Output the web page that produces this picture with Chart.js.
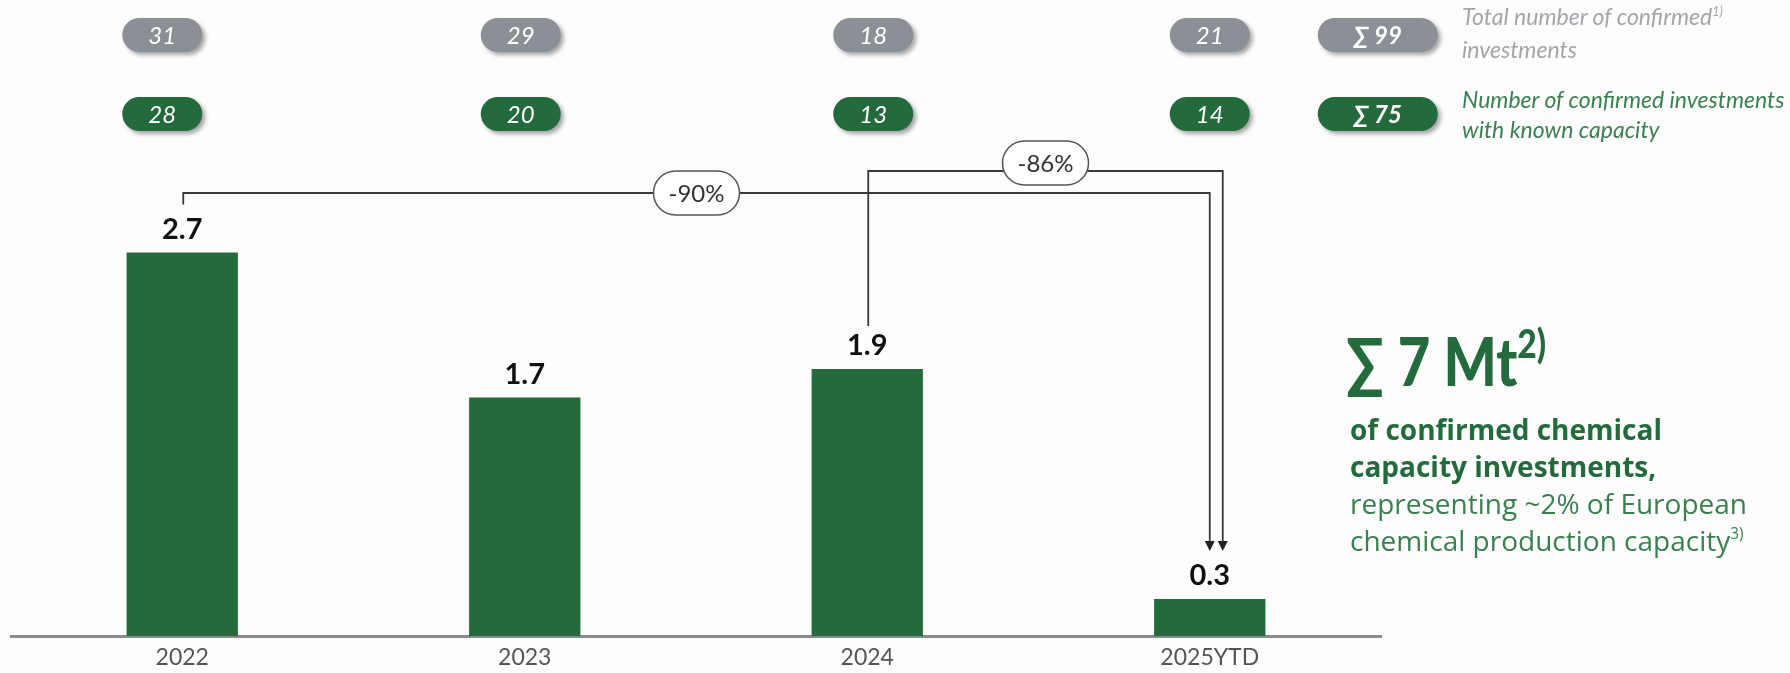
<!DOCTYPE html>
<html>
<head>
<meta charset="utf-8">
<script src="https://cdn.jsdelivr.net/npm/chart.js@4.4.1/dist/chart.umd.min.js"></script>
<style>
    html, body { margin: 0; padding: 0; background: #fdfdfd; }
    #wrap { position: relative; width: 1790px; height: 673px; overflow: hidden; }
    .legend { position: absolute; left: 1462px; font-family: Lato, sans-serif; font-style: italic; font-size: 23px; white-space: nowrap; }
    .legend sup, .big sup, .note sup { font-size: 0.55em; line-height: 0; vertical-align: 0.75em; }
    #legendTotal { top: 0px; color: #a2a6aa; line-height: 33px; }
    #legendKnown { top: 84px; color: #3b8052; line-height: 30px; }
    .big { position: absolute; left: 1346px; top: 321px; font-family: Lato, sans-serif; font-weight: 900; font-size: 66px; line-height: 80px; color: #236b3c; white-space: nowrap; transform: scaleX(0.85); transform-origin: left center; }
    .big sup { font-size: 0.6em; vertical-align: 0.7em; }
    .note { position: absolute; left: 1350px; top: 411px; font-family: 'Open Sans', sans-serif; font-size: 28px; line-height: 37px; color: #3a7f50; white-space: nowrap; }
    .note b { color: #236b3c; }
</style>
</head>
<body>
<div id="wrap">
    <canvas id="chart" width="1790" height="673"></canvas>
    <div class="legend" id="legendTotal">Total number of confirmed<sup>1)</sup><br>investments</div>
    <div class="legend" id="legendKnown">Number of confirmed investments<br>with known capacity</div>
    <div class="big">&sum; 7 Mt<sup>2)</sup></div>
    <div class="note"><b>of confirmed chemical<br>capacity investments,</b><br>representing ~2% of European<br>chemical production capacity<sup>3)</sup></div>
</div>
<script>
// --- Data (bar heights; labels shown rounded) ---
const years = ['2022', '2023', '2024', '2025YTD'];
const capacityMt = [2.7, 1.68, 1.88, 0.26];
const totalInvestments = [31, 29, 18, 21];
const knownCapacityInvestments = [28, 20, 13, 14];
const totalInvestmentsSum = 99;
const knownCapacitySum = 75;
const changeFrom = [0, 2];          // bar index where each bracket starts
const changeTo = [3, 3];            // bar index where each bracket ends
const changeLabels = ['-90%', '-86%'];

const GREEN = '#236b3c';
const GREY_PILL = '#8b9097';

function roundRect(ctx, x, y, w, h, r) {
    ctx.beginPath();
    ctx.moveTo(x + r, y);
    ctx.lineTo(x + w - r, y);
    ctx.arc(x + w - r, y + r, r, -Math.PI / 2, Math.PI / 2);
    ctx.lineTo(x + r, y + h);
    ctx.arc(x + r, y + r, r, Math.PI / 2, Math.PI * 1.5);
    ctx.closePath();
}

function drawPill(ctx, cx, cy, w, text, color, bold) {
    const h = 34;
    ctx.save();
    ctx.shadowColor = 'rgba(0,0,0,0.35)';
    ctx.shadowBlur = 4;
    ctx.shadowOffsetX = 3;
    ctx.shadowOffsetY = 3;
    ctx.fillStyle = color;
    roundRect(ctx, cx - w / 2, cy - h / 2, w, h, h / 2);
    ctx.fill();
    ctx.restore();
    ctx.save();
    ctx.fillStyle = '#ffffff';
    ctx.font = (bold ? 'italic 700 ' : 'italic 400 ') + '24px Lato, sans-serif';
    ctx.textAlign = 'center';
    ctx.textBaseline = 'middle';
    ctx.fillText(text, cx, cy + 1);
    ctx.restore();
}

function drawArrowHead(ctx, x, y) {
    ctx.beginPath();
    ctx.moveTo(x - 5, y - 10);
    ctx.lineTo(x + 5, y - 10);
    ctx.lineTo(x, y);
    ctx.closePath();
    ctx.fill();
}

// Draws value labels, count pills and the change brackets
const annotationsPlugin = {
    id: 'annotations',
    afterDatasetsDraw(chart) {
        const ctx = chart.ctx;
        const bars = chart.getDatasetMeta(0).data;
        const top = chart.chartArea.top;

        // value labels above bars
        ctx.save();
        ctx.fillStyle = '#111';
        ctx.font = '700 29px Lato, sans-serif';
        ctx.textAlign = 'center';
        ctx.textBaseline = 'middle';
        bars.forEach((bar, i) => {
            ctx.fillText(capacityMt[i].toFixed(1), bar.x, bar.y - 23);
        });
        ctx.restore();

        // count pills
        const pillShift = [-20, -4, 6, 0];
        bars.forEach((bar, i) => {
            drawPill(ctx, bar.x + pillShift[i], 35, 80, String(totalInvestments[i]), GREY_PILL, false);
            drawPill(ctx, bar.x + pillShift[i], 114, 80, String(knownCapacityInvestments[i]), GREEN, false);
        });
        const sumX = bars[3].x + 168;
        drawPill(ctx, sumX, 35, 120, '\u2211 ' + totalInvestmentsSum, GREY_PILL, true);
        drawPill(ctx, sumX, 114, 120, '\u2211 ' + knownCapacitySum, GREEN, true);

        // change brackets
        const levels = [top + 54, top + 32];
        const endShift = [0, 13];
        const startGap = [48, 43];
        const boxShift = [0, -8];
        ctx.save();
        ctx.strokeStyle = '#3a3a3a';
        ctx.fillStyle = '#222';
        ctx.lineWidth = 1.8;
        changeLabels.forEach((label, k) => {
            const a = bars[changeFrom[k]];
            const b = bars[changeTo[k]];
            const y = levels[k];
            const x0 = a.x + 1;
            const x1 = b.x + endShift[k];
            const yEnd = b.y - 48;
            ctx.beginPath();
            ctx.moveTo(x0, a.y - startGap[k]);
            ctx.lineTo(x0, y);
            ctx.lineTo(x1, y);
            ctx.lineTo(x1, yEnd - 8);
            ctx.stroke();
            drawArrowHead(ctx, x1, yEnd);

            const cx = (x0 + x1) / 2;
            const cy = y + boxShift[k];
            const w = 86, h = 44;
            ctx.save();
            ctx.fillStyle = '#ffffff';
            ctx.strokeStyle = '#555';
            ctx.lineWidth = 1.5;
            roundRect(ctx, cx - w / 2, cy - h / 2, w, h, h / 2);
            ctx.fill();
            ctx.stroke();
            ctx.fillStyle = '#333';
            ctx.font = '400 24px Lato, sans-serif';
            ctx.textAlign = 'center';
            ctx.textBaseline = 'middle';
            ctx.fillText(label, cx, cy + 1);
            ctx.restore();
        });
        ctx.restore();
    }
};

const ctx = document.getElementById('chart').getContext('2d');
new Chart(ctx, {
    type: 'bar',
    data: {
        labels: years,
        datasets: [{
            label: 'Confirmed capacity (Mt)',
            data: capacityMt,
            backgroundColor: GREEN,
            borderWidth: 0,
            barPercentage: 0.325,
            categoryPercentage: 1
        }]
    },
    options: {
        responsive: false,
        animation: false,
        devicePixelRatio: 1,
        layout: { padding: { left: 11, right: 409, top: 139, bottom: 0 } },
        plugins: {
            legend: { display: false },
            tooltip: { enabled: false }
        },
        scales: {
            x: {
                grid: { display: false, drawTicks: false },
                border: { display: true, color: '#8a8a8a', width: 3 },
                ticks: {
                    color: '#555',
                    font: { family: 'Lato, sans-serif', size: 23 },
                    padding: 8
                },
                afterFit: scale => { scale.height = 37; }
            },
            y: {
                display: false,
                min: 0,
                max: 3.5
            }
        }
    },
    plugins: [annotationsPlugin]
});
</script>
</body>
</html>
